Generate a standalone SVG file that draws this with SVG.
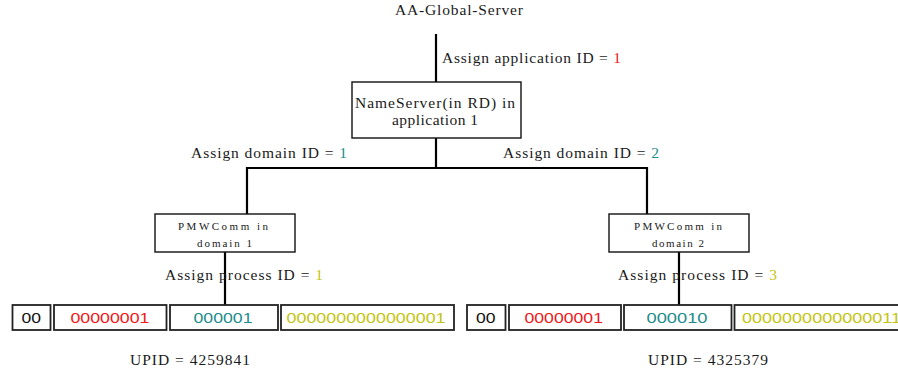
<svg xmlns="http://www.w3.org/2000/svg" width="898" height="373" viewBox="0 0 898 373">
  <style>
    .serif { font-family: "Liberation Serif", "Times New Roman", serif; fill: #1a1a1a; }
    .lbl { font-size: 15.5px; }
    .small { font-size: 11px; }
    .sans { font-family: "Liberation Sans", Arial, sans-serif; font-size: 14px; }
    .box { fill: #ffffff; stroke: #111111; stroke-width: 1.4; }
    .cell { fill: #ffffff; stroke: #222222; stroke-width: 1.8; }
    .wire { fill: none; stroke: #000000; stroke-width: 2.2; }
    .red { fill: #f01818; }
    .teal { fill: #1e8c8c; }
    .yel { fill: #c4c412; }
    .blk { fill: #111111; }
  </style>

  <!-- connectors -->
  <g id="connectors">
    <line class="wire" x1="436" y1="34" x2="436" y2="82"/>
    <line class="wire" x1="436" y1="138" x2="436" y2="168"/>
    <polyline class="wire" points="247,214 247,168 647,168 647,214"/>
    <line class="wire" x1="225" y1="252" x2="225" y2="305"/>
    <line class="wire" x1="679" y1="252" x2="679" y2="305"/>
  </g>

  <!-- root label -->
  <g id="global-server">
    <text class="serif lbl" x="395" y="15" textLength="128" lengthAdjust="spacing">AA-Global-Server</text>
  </g>

  <!-- edge labels -->
  <g id="labels">
    <text class="serif lbl" x="442" y="63" textLength="179" lengthAdjust="spacing">Assign application ID = <tspan class="red">1</tspan></text>
    <text class="serif lbl" x="191" y="157.5" textLength="156" lengthAdjust="spacing">Assign domain ID = <tspan class="teal">1</tspan></text>
    <text class="serif lbl" x="503" y="157.5" textLength="156" lengthAdjust="spacing">Assign domain ID = <tspan class="teal">2</tspan></text>
    <text class="serif lbl" x="165" y="279.5" textLength="158" lengthAdjust="spacing">Assign process ID = <tspan class="yel">1</tspan></text>
    <text class="serif lbl" x="618" y="279.5" textLength="159" lengthAdjust="spacing">Assign process ID = <tspan class="yel">3</tspan></text>
  </g>

  <!-- name server -->
  <g id="nameserver">
    <rect class="box" x="352" y="82" width="169" height="56"/>
    <text class="serif lbl" x="355" y="107.5" textLength="160" lengthAdjust="spacing">NameServer(in RD) in</text>
    <text class="serif lbl" x="392" y="125" textLength="86" lengthAdjust="spacing">application 1</text>
  </g>

  <!-- domain communicators -->
  <g id="pmwcomm-1">
    <rect class="box" x="155" y="214" width="140" height="38"/>
    <text class="serif small" x="178" y="229.5" textLength="90" lengthAdjust="spacing">PMWComm in</text>
    <text class="serif small" x="197" y="246.5" textLength="55" lengthAdjust="spacing">domain 1</text>
  </g>
  <g id="pmwcomm-2">
    <rect class="box" x="609" y="214" width="140" height="38"/>
    <text class="serif small" x="634" y="229.5" textLength="88" lengthAdjust="spacing">PMWComm in</text>
    <text class="serif small" x="652" y="246.5" textLength="52" lengthAdjust="spacing">domain 2</text>
  </g>

  <!-- UPID bit layout, process 1 -->
  <g id="upid-1">
    <rect class="cell" x="12.5" y="305" width="38" height="25"/>
    <rect class="cell" x="54" y="305" width="112.5" height="25"/>
    <rect class="cell" x="170" y="305" width="108" height="25"/>
    <rect class="cell" x="281" y="305" width="173" height="25"/>
    <text class="sans blk" x="21.5" y="322.5" textLength="19.5" lengthAdjust="spacingAndGlyphs">00</text>
    <text class="sans red" x="70.5" y="322.5" textLength="79" lengthAdjust="spacingAndGlyphs">00000001</text>
    <text class="sans teal" x="193.5" y="322.5" textLength="59" lengthAdjust="spacingAndGlyphs">000001</text>
    <text class="sans yel" x="286.5" y="322.5" textLength="159" lengthAdjust="spacingAndGlyphs">0000000000000001</text>
    <text class="serif lbl" x="130" y="365" textLength="120" lengthAdjust="spacing">UPID = 4259841</text>
  </g>

  <!-- UPID bit layout, process 3 (last cell runs past the right edge) -->
  <g id="upid-3">
    <rect class="cell" x="467" y="305" width="38.5" height="25"/>
    <rect class="cell" x="509" y="305" width="112" height="25"/>
    <rect class="cell" x="624" y="305" width="107.5" height="25"/>
    <rect class="cell" x="734.5" y="305" width="180" height="25"/>
    <text class="sans blk" x="476" y="322.5" textLength="19.5" lengthAdjust="spacingAndGlyphs">00</text>
    <text class="sans red" x="524.5" y="322.5" textLength="78.5" lengthAdjust="spacingAndGlyphs">00000001</text>
    <text class="sans teal" x="646.5" y="322.5" textLength="61" lengthAdjust="spacingAndGlyphs">000010</text>
    <text class="sans yel" x="742" y="322.5" textLength="159" lengthAdjust="spacingAndGlyphs">0000000000000011</text>
    <text class="serif lbl" x="648" y="365" textLength="120" lengthAdjust="spacing">UPID = 4325379</text>
  </g>
</svg>
